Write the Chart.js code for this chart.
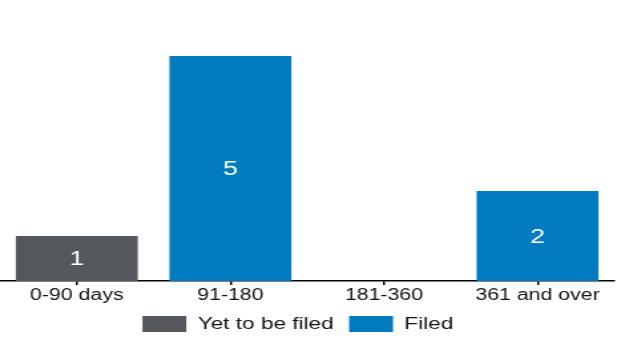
<!DOCTYPE html>
<html>
<head>
<meta charset="utf-8">
<script src="https://cdn.jsdelivr.net/npm/chart.js@4/dist/chart.umd.min.js"></script>
<style>
  html, body { margin: 0; padding: 0; background: #fff; overflow: hidden; }
  /* the reference is stretched sideways, so draw narrow and widen it */
  #chart { display: block; transform: scaleX(1.3297); transform-origin: 0 0; }
</style>
</head>
<body>
<canvas id="chart" width="464" height="338"></canvas>
<script>
const categories = ["0-90 days", "91-180", "181-360", "361 and over"];
const yetToBeFiled = [1, null, null, null];
const filed = [null, 5, null, 2];

// draws the value in the middle of each bar
const barValues = {
    id: "barValues",
    afterDatasetsDraw(chart) {
        const ctx = chart.ctx;
        ctx.save();
        ctx.fillStyle = "#ffffff";
        ctx.font = "20px 'Liberation Sans', Arial, sans-serif";
        ctx.textAlign = "center";
        ctx.textBaseline = "middle";
        chart.data.datasets.forEach((ds, i) => {
            chart.getDatasetMeta(i).data.forEach((bar, j) => {
                const v = ds.data[j];
                if (v === null || v === undefined) return;
                ctx.fillText(String(v), bar.x, (bar.y + bar.base) / 2 + 1);
            });
        });
        ctx.restore();
    }
};

const ctx = document.getElementById("chart").getContext("2d");
new Chart(ctx, {
    type: "bar",
    data: {
        labels: categories,
        datasets: [
            { label: "Yet to be filed", data: yetToBeFiled, backgroundColor: "#54575B", barPercentage: 0.794, categoryPercentage: 1.0 },
            { label: "Filed", data: filed, backgroundColor: "#007BC0", barPercentage: 0.794, categoryPercentage: 1.0 }
        ]
    },
    options: {
        responsive: false,
        animation: false,
        // legend sits a bit left of centre in the reference, hence the negative left + empty y axis
        layout: { padding: { top: 11, left: -14, right: 2, bottom: -4.5 } },
        scales: {
            x: {
                stacked: true,
                grid: { drawOnChartArea: false, drawTicks: true, tickLength: 4, offset: false, color: "#000", lineWidth: 1.5 },
                border: { display: true, color: "#000", width: 1.5 },
                ticks: { color: "#111", padding: 3, font: { family: "'Liberation Sans', Arial, sans-serif", size: 16, lineHeight: 1 } },
                afterFit(scale) { scale.height = 23; }
            },
            y: {
                stacked: true,
                min: 0,
                max: 6,
                ticks: { display: false },
                grid: { display: false },
                border: { display: false },
                afterFit(scale) { scale.width = 14; }
            }
        },
        plugins: {
            legend: {
                position: "bottom",
                labels: {
                    boxWidth: 33,
                    boxHeight: 16,
                    padding: 11.5,
                    color: "#111",
                    font: { family: "'Liberation Sans', Arial, sans-serif", size: 17 }
                }
            },
            tooltip: { enabled: false }
        }
    },
    plugins: [barValues]
});
</script>
</body>
</html>
